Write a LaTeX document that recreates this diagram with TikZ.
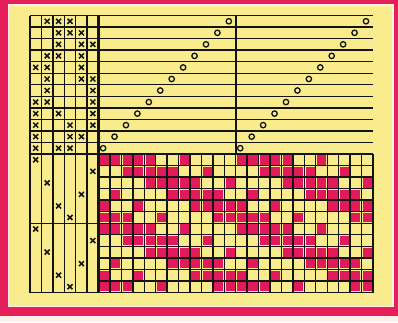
\documentclass[tikz,border=0pt]{standalone}
\definecolor{DraftRed}{RGB}{230,30,90}
\definecolor{DraftPink}{RGB}{226,26,92}
\definecolor{DraftYellow}{RGB}{249,236,140}
\definecolor{DraftInk}{RGB}{20,20,20}
\definecolor{DraftPaper}{RGB}{252,240,232}

\begin{document}
\begin{tikzpicture}[x=1pt, y=-1pt,
        gridline/.style={DraftInk, line width=1.4pt},
        heavyline/.style={DraftInk, line width=2.6pt},
        cross/.style={DraftInk, line width=1.5pt},
        ring/.style={DraftInk, line width=1.3pt},
        cell/.style={DraftPink}]
        % Frame
        \useasboundingbox (0,0) rectangle (398,322);
        \fill[DraftPaper] (0,0) rectangle (398,322);
        \fill[DraftRed] (0,0) rectangle (398,315.5);
        \fill[DraftYellow] (8.5,5) rectangle (393,306.5);
        \draw[DraftPaper, line width=1.5pt] (8.5,5) rectangle (393,306.5);

        % Drawdown cells (pattern repeats every 12 ends and 6 picks)
        \foreach \r/\cols in {0/{0,1,2,3,4,7}, 1/{2,3,4,5,6,9}, 2/{4,5,6,7,8,11},
                3/{1,6,7,8,9,10}, 4/{0,3,8,9,10,11}, 5/{0,1,2,5,10,11}}
            \foreach \c in \cols
                \foreach \k in {0,1}
                    \foreach \m in {0,1}
                        \fill[cell] ({98.6+11.43*(\c+12*\k)+1.2},{154+11.54*(\r+6*\m)+1.2}) rectangle ++(9.2,9.3);

        % Tie-up grid
        \foreach \i in {0,...,6}
            \draw[gridline] ({30+11.43*\i},15.5) -- ({30+11.43*\i},154);
        \foreach \j in {0,...,12}
            \draw[gridline] (30,{15.5+11.54*\j}) -- (98.6,{15.5+11.54*\j});

        % Threading lines
        \foreach \j in {0,...,12}
            \draw[gridline] (98.6,{15.5+11.54*\j}) -- (372.9,{15.5+11.54*\j});
        \draw[gridline] (235.8,15.5) -- (235.8,154);

        % Treadling grid
        \foreach \i in {0,...,6}
            \draw[gridline] ({30+11.43*\i},154) -- ({30+11.43*\i},292.5);
        \foreach \j in {0,6,12}
            \draw[gridline] (30,{154+11.54*\j}) -- (98.6,{154+11.54*\j});

        % Drawdown grid
        \foreach \i in {0,...,24}
            \draw[gridline] ({98.6+11.43*\i},154) -- ({98.6+11.43*\i},292.5);
        \foreach \j in {0,...,12}
            \draw[gridline] (98.6,{154+11.54*\j}) -- (372.9,{154+11.54*\j});

        % Heavy dividers
        \draw[heavyline] (98.6,15.5) -- (98.6,292.5);
        \draw[heavyline] (30,154) -- (372.9,154);

        % Tie-up crosses
        \foreach \r/\cols in {0/{1,2,3}, 1/{2,3,4}, 2/{2,4,5}, 3/{1,2,4}, 4/{0,1,4}, 5/{1,4,5},
                6/{1,5}, 7/{0,1,5}, 8/{0,2,5}, 9/{0,3,5}, 10/{0,3,4}, 11/{0,2,3}}
            \foreach \c in \cols
                \draw[cross] ({30+11.43*(\c+0.5)},{15.5+11.54*(\r+0.5)})
                    +(-2.5,-2.5) -- +(2.5,2.5) +(-2.5,2.5) -- +(2.5,-2.5);

        % Treadling crosses
        \foreach \r/\c in {0/0, 1/5, 2/1, 3/4, 4/2, 5/3}
            \foreach \m in {0,1}
                \draw[cross] ({30+11.43*(\c+0.5)},{154+11.54*(\r+6*\m+0.5)})
                    +(-2.5,-2.5) -- +(2.5,2.5) +(-2.5,2.5) -- +(2.5,-2.5);

        % Threading rings
        \foreach \i in {0,...,11}
            \foreach \k in {0,1}
                \draw[ring] ({98.6+11.43*(\i+12*\k)+4.5},{15.5+11.54*(11-\i+0.5)}) circle (2.7pt);
\end{tikzpicture}
\end{document}
